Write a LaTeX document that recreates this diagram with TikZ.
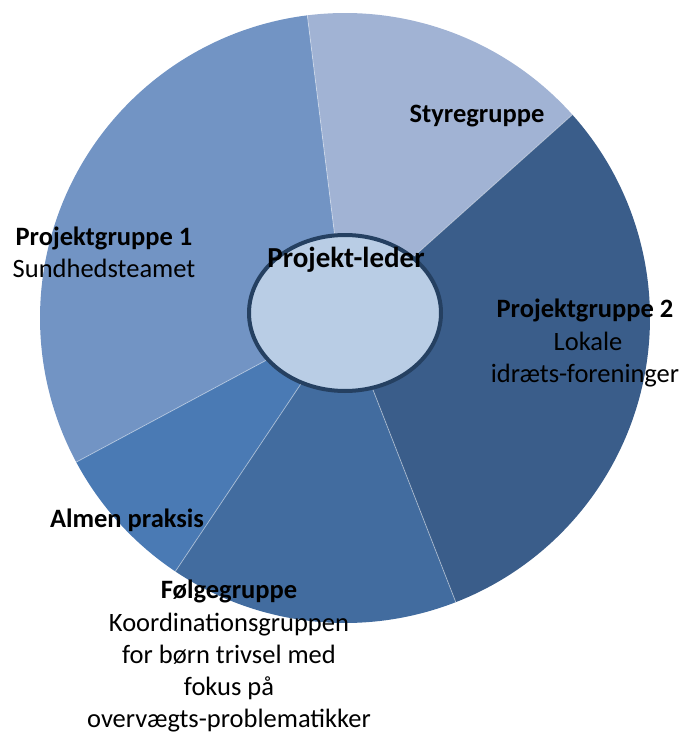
\documentclass[tikz,border=0pt]{standalone}
\usepackage{fontspec}
\setmainfont{Carlito}
\usetikzlibrary{shapes.geometric}
\definecolor{cP1}{HTML}{7294C4}
\definecolor{cSty}{HTML}{A1B3D4}
\definecolor{cP2}{HTML}{3A5D8A}
\definecolor{cFol}{HTML}{426C9F}
\definecolor{cAlm}{HTML}{4A7AB4}
\definecolor{cEllF}{HTML}{B9CDE5}
\definecolor{cEllD}{HTML}{254061}
\tikzset{
  lbl/.style={inner sep=0pt, anchor=base, font=\fontsize{26.5}{32}\selectfont, text=black},
  sep/.style={draw=white, draw opacity=0.45, line width=0.8pt},
  hub/.style={ellipse, draw=cEllD, fill=cEllF, line width=4pt, inner sep=0pt,
              minimum width=192pt, minimum height=156pt},
}
\begin{document}
\begin{tikzpicture}[x=1pt,y=1pt]
\useasboundingbox (0,0) rectangle (681,-733);
\coordinate (C) at (345,-318);
\def\R{305pt}
% slices
\fill[cSty] (C) -- ++(41.8:\R) arc[start angle=41.8, end angle=97.1, radius=\R] -- cycle;
\fill[cP1] (C) -- ++(97.1:\R) arc[start angle=97.1, end angle=208.2, radius=\R] -- cycle;
\fill[cAlm] (C) -- ++(208.2:\R) arc[start angle=208.2, end angle=236.2, radius=\R] -- cycle;
\fill[cFol] (C) -- ++(236.2:\R) arc[start angle=236.2, end angle=291.3, radius=\R] -- cycle;
\fill[cP2] (C) -- ++(-68.7:\R) arc[start angle=-68.7, end angle=41.8, radius=\R] -- cycle;
% separators
\foreach \a in {41.8,97.1,208.2,236.2,291.3}{
  \draw[sep] (C) -- ++(\a:\R);
}
% centre ellipse
\node[hub] (E) at (345,-313) {};
% labels
\node[lbl] (sty) at (477,-123) {\bfseries Styregruppe};
\node[lbl] (p1a) at (104,-245) {\bfseries Projektgruppe 1};
\node[lbl] (p1b) at (104,-277) {Sundhedsteamet};
\node[lbl, font=\fontsize{29}{34}\selectfont] (pl) at (346,-267) {\bfseries Projekt-leder};
\node[lbl] (p2a) at (585,-317) {\bfseries Projektgruppe 2};
\node[lbl] (p2b) at (588,-350) {Lokale};
\node[lbl] (p2c) at (585,-382) {idræts-foreninger};
\node[lbl] (alm) at (127,-527) {\bfseries Almen praksis};
\node[lbl] (fa) at (229,-598) {\bfseries Følgegruppe};
\node[lbl] (fb) at (229,-631) {Koordinationsgruppen};
\node[lbl] (fc) at (229,-663) {for børn trivsel med};
\node[lbl] (fd) at (229,-695) {fokus på};
\node[lbl] (fe) at (229,-727) {overvægts-problematikker};
\end{tikzpicture}
\end{document}
